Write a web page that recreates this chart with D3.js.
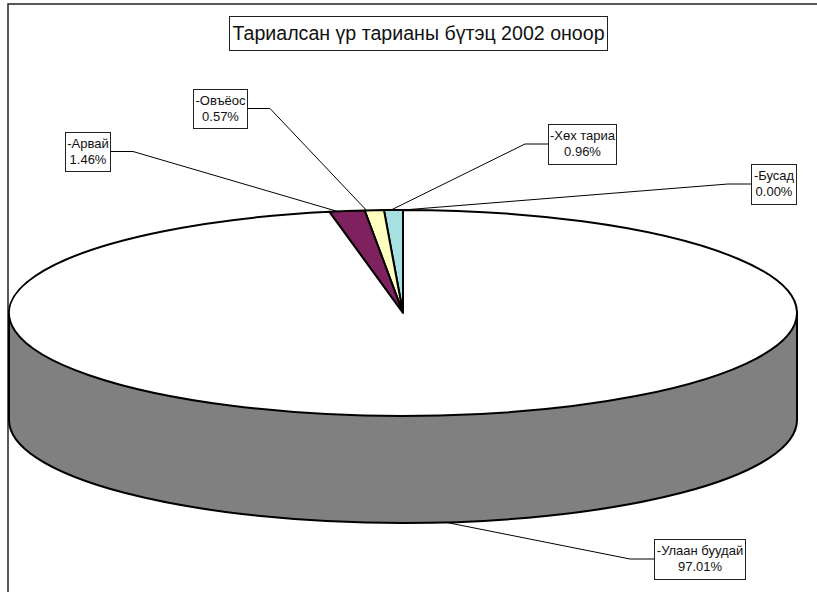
<!DOCTYPE html>
<html>

<head>
  <meta charset="utf-8">
  <title>Тариалсан үр тарианы бүтэц 2002 оноор</title>
  <script src="https://d3js.org/d3.v7.min.js"></script>
  <style>
    html, body { margin: 0; padding: 0; background: #fff; overflow: hidden; }
    text { font-family: "Liberation Sans", Arial, sans-serif; fill: #111; }
  </style>
</head>

<body>
  <div id='view'></div>
  <script>
    var titleText = "Тариалсан үр тарианы бүтэц 2002 оноор";

    // counter-clockwise from 12 o'clock, same order as the slices in the picture
    var categories = ["Бусад", "Хөх тариа", "Овъёос", "Арвай", "Улаан буудай"];
    var percentLabels = ["0.00%", "0.96%", "0.57%", "1.46%", "97.01%"];
    // wedge widths as measured in the picture, they differ a bit from the printed labels
    var wedgeShares = [0, 0.77, 0.78, 1.44, 97.01];
    var colors = ["#ffffff", "#a6e0e0", "#ffffc0", "#80215f", "#ffffff"];

    var width = 817;
    var height = 592;

    // pie layout
    var cx = 403, cy = 313, rx = 394, ry = 103, depth = 107;

    // label boxes: x0, y0, x1, y1 and the elbow x of the leader
    var boxes = [
      [751, 164, 796, 204, 728],
      [548, 124, 616, 164, 525],
      [193, 89, 247, 128, 270],
      [65, 132, 110, 171, 133],
      [654, 539, 745, 579, 630]
    ];
    // where along its slice each leader touches the top rim
    var leaderAt = [0, 0.63, 0.9, 0.77];

    var svg = d3.select("#view")
      .append("svg")
      .attr("width", width)
      .attr("height", height)
      .style("display", "block");

    // chart frame, runs off the right and bottom of the picture
    svg.append("rect")
      .attr("x", 8)
      .attr("y", 4)
      .attr("width", width + 20)
      .attr("height", height + 20)
      .attr("fill", "#fff")
      .attr("stroke", "#222")
      .attr("stroke-width", 1.5);

    var pie = d3.pie()
      .sort(null)
      .startAngle(0)
      .endAngle(-2 * Math.PI);
    var slices = pie(wedgeShares);

    var arc = d3.arc()
      .innerRadius(0)
      .outerRadius(rx);

    var squash = "scale(1," + (ry / rx) + ")";

    // side wall
    var wall = svg.append("g");
    wall.append("path")
      .attr("transform", "translate(" + cx + "," + (cy + depth) + ") " + squash)
      .attr("d", arc({ startAngle: 0, endAngle: 2 * Math.PI }))
      .attr("fill", "#808080")
      .attr("stroke", "#000")
      .attr("stroke-width", 2)
      .attr("vector-effect", "non-scaling-stroke");
    wall.append("rect")
      .attr("x", cx - rx)
      .attr("y", cy)
      .attr("width", 2 * rx)
      .attr("height", depth)
      .attr("fill", "#808080");
    [cx - rx, cx + rx].forEach(function (x) {
      wall.append("line")
        .attr("x1", x).attr("x2", x)
        .attr("y1", cy).attr("y2", cy + depth)
        .attr("stroke", "#000")
        .attr("stroke-width", 2);
    });

    // top face
    svg.append("g")
      .attr("transform", "translate(" + cx + "," + cy + ") " + squash)
      .selectAll("path")
      .data(slices)
      .join("path")
      .attr("d", arc)
      .attr("fill", function (d, i) { return colors[i]; })
      .attr("stroke", "#000")
      .attr("stroke-width", 2)
      .attr("stroke-linejoin", "round")
      .attr("vector-effect", "non-scaling-stroke");

    function rimPoint(d, i) {
      // the big slice is labelled on the front of the wall
      if (i === 4) {
        var front = Math.PI - 0.11;
        return [cx + rx * Math.sin(front), cy + depth - ry * Math.cos(front)];
      }
      var a = d.startAngle + (d.endAngle - d.startAngle) * leaderAt[i];
      return [cx + rx * Math.sin(a), cy - ry * Math.cos(a)];
    }

    var line = d3.line();
    svg.append("g")
      .selectAll("path")
      .data(slices)
      .join("path")
      .attr("d", function (d, i) {
        var b = boxes[i];
        var midY = (b[1] + b[3]) / 2;
        var boxX = b[4] > b[2] ? b[2] : b[0];
        return line([[boxX, midY], [b[4], midY], rimPoint(d, i)]);
      })
      .attr("fill", "none")
      .attr("stroke", "#000")
      .attr("stroke-width", 1);

    // labels
    var labels = svg.append("g")
      .selectAll("g")
      .data(categories)
      .join("g");
    labels.append("rect")
      .attr("x", function (d, i) { return boxes[i][0] + 0.5; })
      .attr("y", function (d, i) { return boxes[i][1] + 0.5; })
      .attr("width", function (d, i) { return boxes[i][2] - boxes[i][0]; })
      .attr("height", function (d, i) { return boxes[i][3] - boxes[i][1]; })
      .attr("fill", "#fff")
      .attr("stroke", "#222")
      .attr("stroke-width", 1);
    labels.append("text")
      .attr("x", function (d, i) { return (boxes[i][0] + boxes[i][2]) / 2 + 0.5; })
      .attr("y", function (d, i) { return boxes[i][1] + 15.5; })
      .attr("text-anchor", "middle")
      .attr("font-size", 13)
      .text(function (d) { return "-" + d; });
    labels.append("text")
      .attr("x", function (d, i) { return (boxes[i][0] + boxes[i][2]) / 2 + 0.5; })
      .attr("y", function (d, i) { return boxes[i][1] + 32; })
      .attr("text-anchor", "middle")
      .attr("font-size", 13)
      .text(function (d, i) { return percentLabels[i]; });

    // title
    svg.append("rect")
      .attr("x", 229.5)
      .attr("y", 16.5)
      .attr("width", 378)
      .attr("height", 34)
      .attr("fill", "#fff")
      .attr("stroke", "#222")
      .attr("stroke-width", 1);
    svg.append("text")
      .attr("x", 418.5)
      .attr("y", 39.5)
      .attr("text-anchor", "middle")
      .attr("font-size", 19.6)
      .text(titleText);
  </script>
</body>

</html>
